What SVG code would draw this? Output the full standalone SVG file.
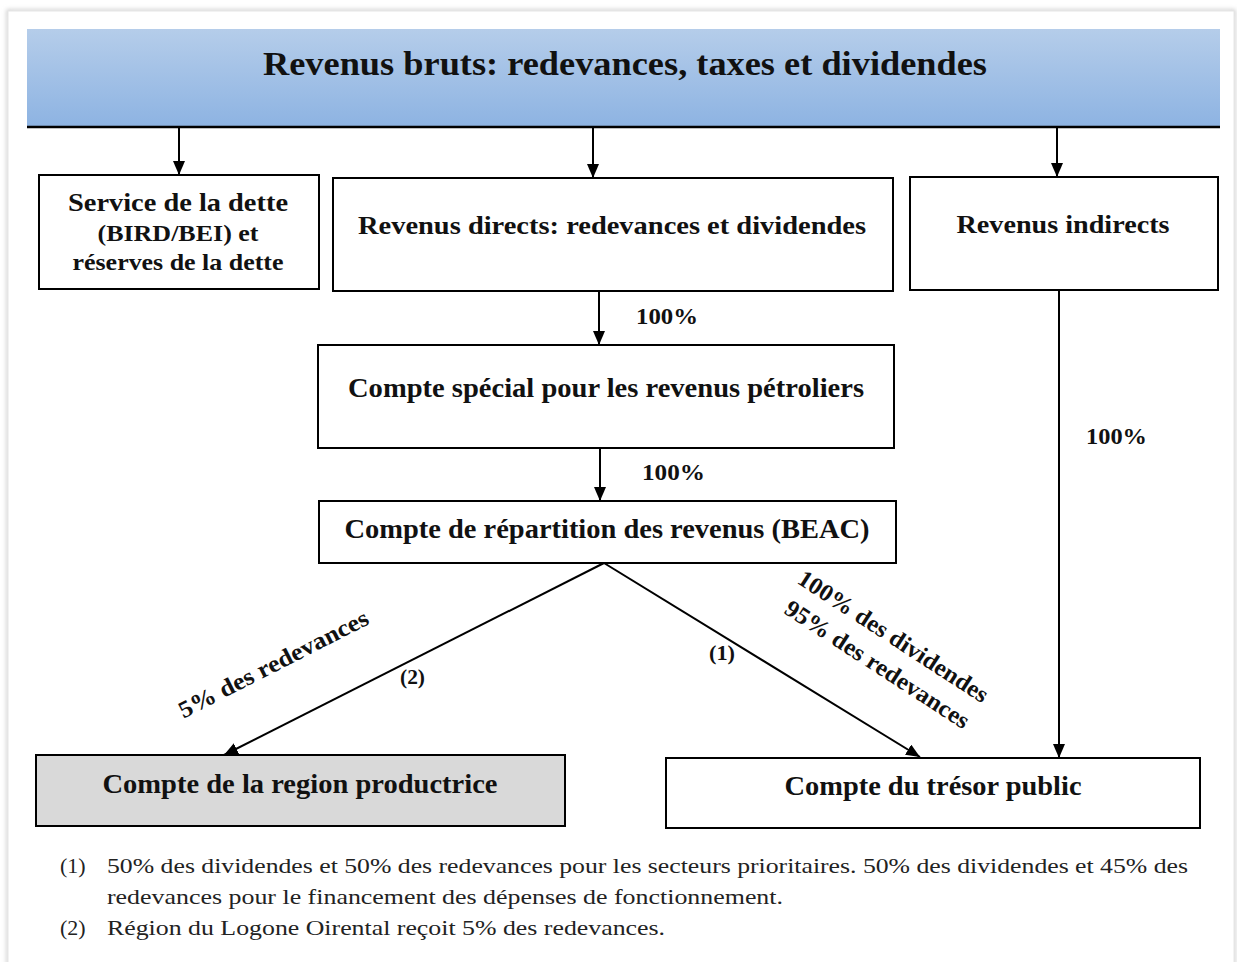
<svg xmlns="http://www.w3.org/2000/svg" width="1237" height="962" viewBox="0 0 1237 962">
<defs>
<linearGradient id="hdr" x1="0" y1="0" x2="0" y2="1">
<stop offset="0" stop-color="#b5cdea"/>
<stop offset="1" stop-color="#8db3e2"/>
</linearGradient>
<marker id="arr" viewBox="0 0 14 12" refX="14" refY="6" markerWidth="14" markerHeight="12" markerUnits="userSpaceOnUse" orient="auto">
<path d="M0,0 L14,6 L0,12 Z" fill="#000"/>
</marker>
<filter id="sh" x="-5%" y="-5%" width="110%" height="110%">
<feGaussianBlur stdDeviation="2"/>
</filter>
</defs>
<style>
.box{fill:#fff;stroke:#000;stroke-width:2}
.t{font-family:"Liberation Serif","Times New Roman",serif;font-weight:bold;fill:#111}
.n{font-family:"Liberation Serif","Times New Roman",serif;font-weight:normal;fill:#222}
.c{stroke:#000;stroke-width:2;fill:none}
</style>
<rect x="0" y="0" width="1237" height="962" fill="#fff"/>
<rect x="8" y="11" width="1226" height="960" fill="none" stroke="#c8c8c8" stroke-width="3" filter="url(#sh)"/>
<rect x="8" y="11" width="1226" height="960" fill="#fff" stroke="#e6e6e6" stroke-width="1"/>

<g id="header">
<rect x="27" y="29" width="1193" height="98" fill="url(#hdr)"/>
<line x1="27" y1="127" x2="1220" y2="127" stroke="#000" stroke-width="2.5"/>
<text class="t" x="625" y="75" font-size="34" text-anchor="middle" textLength="724" lengthAdjust="spacingAndGlyphs">Revenus bruts: redevances, taxes et dividendes</text>
</g>

<g id="service-dette">
<rect class="box" x="39" y="175" width="280" height="114"/>
<text class="t" x="178" y="211" font-size="26" text-anchor="middle" textLength="220" lengthAdjust="spacingAndGlyphs">Service de la dette</text>
<text class="t" x="178" y="241" font-size="23" text-anchor="middle" textLength="161" lengthAdjust="spacingAndGlyphs">(BIRD/BEI) et</text>
<text class="t" x="178" y="270" font-size="23" text-anchor="middle" textLength="211" lengthAdjust="spacingAndGlyphs">réserves de la dette</text>
</g>

<g id="revenus-directs">
<rect class="box" x="333" y="178" width="560" height="113"/>
<text class="t" x="612" y="234" font-size="26" text-anchor="middle" textLength="508" lengthAdjust="spacingAndGlyphs">Revenus directs: redevances et dividendes</text>
</g>

<g id="revenus-indirects">
<rect class="box" x="910" y="177" width="308" height="113"/>
<text class="t" x="1063" y="233" font-size="26" text-anchor="middle" textLength="213" lengthAdjust="spacingAndGlyphs">Revenus indirects</text>
</g>

<g id="compte-special">
<rect class="box" x="318" y="345" width="576" height="103"/>
<text class="t" x="606" y="397" font-size="28" text-anchor="middle" textLength="516" lengthAdjust="spacingAndGlyphs">Compte spécial pour les revenus pétroliers</text>
</g>

<g id="compte-repartition">
<rect class="box" x="319" y="501" width="577" height="62"/>
<text class="t" x="607" y="538" font-size="28" text-anchor="middle" textLength="525" lengthAdjust="spacingAndGlyphs">Compte de répartition des revenus (BEAC)</text>
</g>

<g id="compte-region">
<rect x="36" y="755" width="529" height="71" fill="#d9d9d9" stroke="#000" stroke-width="2"/>
<text class="t" x="300" y="793" font-size="28" text-anchor="middle" textLength="395" lengthAdjust="spacingAndGlyphs">Compte de la region productrice</text>
</g>

<g id="compte-tresor">
<rect class="box" x="666" y="758" width="534" height="70"/>
<text class="t" x="933" y="795" font-size="28" text-anchor="middle" textLength="297" lengthAdjust="spacingAndGlyphs">Compte du trésor public</text>
</g>

<g id="connectors">
<line class="c" x1="179" y1="127" x2="179" y2="175" marker-end="url(#arr)"/>
<line class="c" x1="593" y1="127" x2="593" y2="178" marker-end="url(#arr)"/>
<line class="c" x1="1057" y1="127" x2="1057" y2="177" marker-end="url(#arr)"/>
<line class="c" x1="599" y1="291" x2="599" y2="345" marker-end="url(#arr)"/>
<line class="c" x1="600" y1="448" x2="600" y2="501" marker-end="url(#arr)"/>
<line class="c" x1="604" y1="563" x2="224" y2="755" marker-end="url(#arr)"/>
<line class="c" x1="604" y1="563" x2="920" y2="757" marker-end="url(#arr)"/>
<line class="c" x1="1059" y1="290" x2="1059" y2="758" marker-end="url(#arr)"/>
<text class="t" x="636" y="324" font-size="23" textLength="62" lengthAdjust="spacingAndGlyphs">100%</text>
<text class="t" x="642" y="480" font-size="23" textLength="63" lengthAdjust="spacingAndGlyphs">100%</text>
<text class="t" x="1086" y="444" font-size="23" textLength="61" lengthAdjust="spacingAndGlyphs">100%</text>
<text class="t" font-size="24" text-anchor="middle" transform="translate(277,671) rotate(-27)" textLength="210" lengthAdjust="spacingAndGlyphs">5% des redevances</text>
<text class="t" x="400" y="684" font-size="21" textLength="25" lengthAdjust="spacingAndGlyphs">(2)</text>
<text class="t" x="709" y="660" font-size="21" textLength="26" lengthAdjust="spacingAndGlyphs">(1)</text>
<text class="t" font-size="24" text-anchor="middle" transform="translate(889,643) rotate(33)" textLength="222" lengthAdjust="spacingAndGlyphs">100% des dividendes</text>
<text class="t" font-size="24" text-anchor="middle" transform="translate(873,671) rotate(33)" textLength="215" lengthAdjust="spacingAndGlyphs">95% des redevances</text>
</g>

<g id="footnotes">
<text class="n" x="60" y="873" font-size="22">(1)</text>
<text class="n" x="107" y="873" font-size="22" textLength="1081" lengthAdjust="spacingAndGlyphs">50% des dividendes et 50% des redevances pour les secteurs prioritaires. 50% des dividendes et 45% des</text>
<text class="n" x="107" y="904" font-size="22" textLength="676" lengthAdjust="spacingAndGlyphs">redevances pour le financement des dépenses de fonctionnement.</text>
<text class="n" x="60" y="935" font-size="22">(2)</text>
<text class="n" x="107" y="935" font-size="22" textLength="558" lengthAdjust="spacingAndGlyphs">Région du Logone Oirental reçoit 5% des redevances.</text>
</g>
</svg>
